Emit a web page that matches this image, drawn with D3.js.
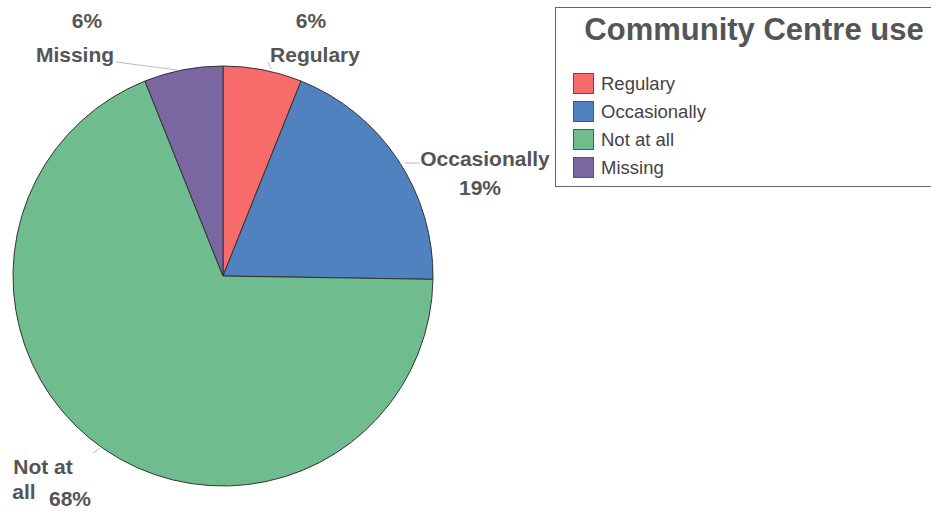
<!DOCTYPE html>
<html>
<head>
<meta charset="utf-8">
<script src="https://cdn.jsdelivr.net/npm/d3@7"></script>
<style>
  html, body { margin: 0; padding: 0; background: #fff; }
  svg { display: block; font-family: "Liberation Sans", Arial, sans-serif; }
</style>
</head>
<body>
<svg id="chart" width="931" height="513"></svg>
<script>
// Community Centre use — share of respondents
const categories = ["Regulary", "Occasionally", "Not at all", "Missing"];
const values = [6, 19, 68, 6];
const colors = ["#f86b6b", "#5182c0", "#6fbd8e", "#7a67a2"];
const chartTitle = "Community Centre use";

const svg = d3.select("#chart");
const cx = 223, cy = 276, r = 210;
const textColor = "#555";

const pie = d3.pie().sort(null).value(d => d);
const arcs = pie(values);
const arc = d3.arc().innerRadius(0).outerRadius(r);

const g = svg.append("g").attr("transform", `translate(${cx},${cy})`);
g.selectAll("path.slice")
  .data(arcs)
  .join("path")
  .attr("class", "slice")
  .attr("d", arc)
  .attr("fill", (d, i) => colors[i])
  .attr("stroke", "#333")
  .attr("stroke-width", 1);

// Slice labels: name lines and percentage, with short leader lines
const labelSpecs = [
  { lines: [{ t: categories[0], x: 315, y: 62 }], pct: { x: 311, y: 28 },
    leader: [[268, 62], [271, 69]] },
  { lines: [{ t: categories[1], x: 485, y: 166 }], pct: { x: 480, y: 195 },
    leader: [[420, 163], [405, 163]] },
  { lines: [{ t: "Not at", x: 43, y: 474 }, { t: "all", x: 24, y: 499 }], pct: { x: 70, y: 506 },
    leader: [[93, 453], [100, 448]] },
  { lines: [{ t: categories[3], x: 75, y: 62 }], pct: { x: 87, y: 28 },
    leader: [[116, 62], [177, 70]] }
];

const pctFmt = d3.format(".0f");
const labelSize = 21;
labelSpecs.forEach((s, i) => {
  svg.append("line")
    .attr("x1", s.leader[0][0]).attr("y1", s.leader[0][1])
    .attr("x2", s.leader[1][0]).attr("y2", s.leader[1][1])
    .attr("stroke", "#bbb").attr("stroke-width", 1);
  s.lines.forEach(l => {
    svg.append("text")
      .attr("x", l.x).attr("y", l.y)
      .attr("text-anchor", "middle")
      .attr("font-size", labelSize).attr("font-weight", "bold")
      .attr("fill", textColor)
      .text(l.t);
  });
  svg.append("text")
    .attr("x", s.pct.x).attr("y", s.pct.y)
    .attr("text-anchor", "middle")
    .attr("font-size", labelSize).attr("font-weight", "bold")
    .attr("fill", textColor)
    .text(pctFmt(values[i]) + "%");
});

// Legend box
const legend = svg.append("g");
legend.append("rect")
  .attr("x", 555.5).attr("y", 7.5)
  .attr("width", 390).attr("height", 179)
  .attr("fill", "#fff").attr("stroke", "#666").attr("stroke-width", 1);
legend.append("text")
  .attr("x", 754).attr("y", 40)
  .attr("text-anchor", "middle")
  .attr("font-size", 31).attr("font-weight", "bold")
  .attr("fill", "#555")
  .text(chartTitle);

const items = legend.selectAll("g.item")
  .data(categories)
  .join("g")
  .attr("class", "item")
  .attr("transform", (d, i) => `translate(573, ${73 + i * 28})`);
items.append("rect")
  .attr("x", 0.5).attr("y", 0.5)
  .attr("width", 20).attr("height", 20)
  .attr("fill", (d, i) => colors[i])
  .attr("stroke", "#555").attr("stroke-width", 1);
items.append("text")
  .attr("x", 28).attr("y", 17)
  .attr("font-size", 18.5)
  .attr("fill", "#444")
  .text(d => d);
</script>
</body>
</html>
